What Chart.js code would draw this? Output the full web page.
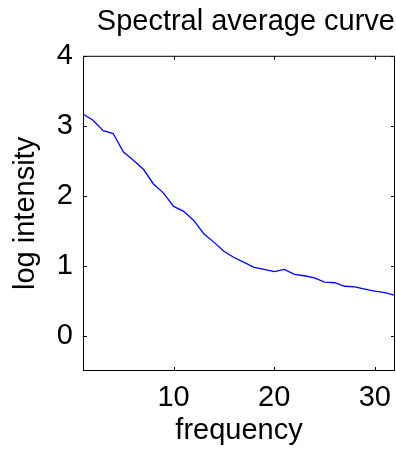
<!DOCTYPE html>
<html>
<head>
<meta charset="utf-8">
<script src="https://cdn.jsdelivr.net/npm/chart.js@4/dist/chart.umd.min.js"></script>
<style>
  html, body { margin: 0; padding: 0; background: #fff; }
  #wrap { width: 396px; height: 449px; }
</style>
</head>
<body>
<div id="wrap"><canvas id="spectrum" width="396" height="449"></canvas></div>
<script>
// ---- data ----
const frequency = [1, 2, 3, 4, 5, 6, 7, 8, 9, 10, 11, 12, 13, 14, 15, 16,
  17, 18, 19, 20, 21, 22, 23, 24, 25, 26, 27, 28, 29, 30, 31, 32];
const logIntensity = [3.17, 3.08, 2.93, 2.89, 2.63, 2.51, 2.38, 2.17, 2.04, 1.85,
  1.78, 1.65, 1.46, 1.34, 1.21, 1.12, 1.05, 0.98, 0.95, 0.92, 0.95, 0.88,
  0.86, 0.83, 0.77, 0.76, 0.71, 0.70, 0.67, 0.64, 0.62, 0.58];
const xTicks = [10, 20, 30];
const yTicks = [0, 1, 2, 3, 4];

const FONT = "'Liberation Sans', Arial, Helvetica, sans-serif";

// matlab style box with inward ticks
const boxPlugin = {
  id: "box",
  afterDraw(chart) {
    const { ctx, chartArea: a, scales } = chart;
    const len = 4;
    ctx.save();
    ctx.strokeStyle = "#000";
    ctx.lineWidth = 1;
    ctx.strokeRect(a.left + 0.5, a.top + 0.5, a.right - a.left - 1, a.bottom - a.top - 1);
    ctx.beginPath();
    xTicks.forEach((v) => {
      const px = Math.round(scales.x.getPixelForValue(v)) + 0.5;
      ctx.moveTo(px, a.bottom);
      ctx.lineTo(px, a.bottom - len);
      ctx.moveTo(px, a.top);
      ctx.lineTo(px, a.top + len);
    });
    yTicks.forEach((v) => {
      const py = Math.round(scales.y.getPixelForValue(v)) + 0.5;
      ctx.moveTo(a.left, py);
      ctx.lineTo(a.left + len, py);
      ctx.moveTo(a.right, py);
      ctx.lineTo(a.right - len, py);
    });
    ctx.stroke();
    ctx.restore();
  },
};

function loadSpectrumChart() {
  const ctx = document.getElementById("spectrum");

  new Chart(ctx, {
    type: "line",
    data: {
      datasets: [
        {
          data: frequency.map((f, i) => ({ x: f, y: logIntensity[i] })),
          borderColor: "#0000ff",
          borderWidth: 1.3,
          pointRadius: 0,
          tension: 0,
          fill: false,
        },
      ],
    },
    options: {
      responsive: false,
      animation: false,
      layout: { padding: { left: 0, right: 1, top: 0, bottom: 0 } },
      plugins: {
        legend: { display: false },
        tooltip: { enabled: false },
        title: {
          display: true,
          text: "Spectral average curve",
          align: "end",
          color: "#000",
          font: { family: FONT, size: 29, weight: "normal" },
          padding: { top: 5, bottom: 16 },
        },
      },
      scales: {
        x: {
          type: "linear",
          min: 1,
          max: 32,
          afterBuildTicks: (s) => { s.ticks = xTicks.map((v) => ({ value: v })); },
          afterFit: (s) => { s.height = 78; s.paddingLeft = 0; s.paddingRight = 0; },
          grid: { display: false, drawTicks: false },
          border: { display: false },
          ticks: {
            color: "#000",
            font: { family: FONT, size: 29 },
            padding: 10,
            maxRotation: 0,
          },
          title: {
            display: true,
            text: "frequency",
            color: "#000",
            font: { family: FONT, size: 29 },
            padding: { top: 0, bottom: 1 },
          },
        },
        y: {
          min: -0.5,
          max: 4,
          afterBuildTicks: (s) => { s.ticks = yTicks.map((v) => ({ value: v })); },
          afterFit: (s) => { s.width = 83; s.paddingTop = 0; s.paddingBottom = 0; },
          grid: { display: false, drawTicks: false },
          border: { display: false },
          ticks: {
            color: "#000",
            font: { family: FONT, size: 29 },
            padding: 10,
          },
          title: {
            display: true,
            text: "log intensity",
            color: "#000",
            font: { family: FONT, size: 29 },
            padding: { top: 9, bottom: 0 },
          },
        },
      },
    },
    plugins: [boxPlugin],
  });
}

document.addEventListener("DOMContentLoaded", loadSpectrumChart);
</script>
</body>
</html>
